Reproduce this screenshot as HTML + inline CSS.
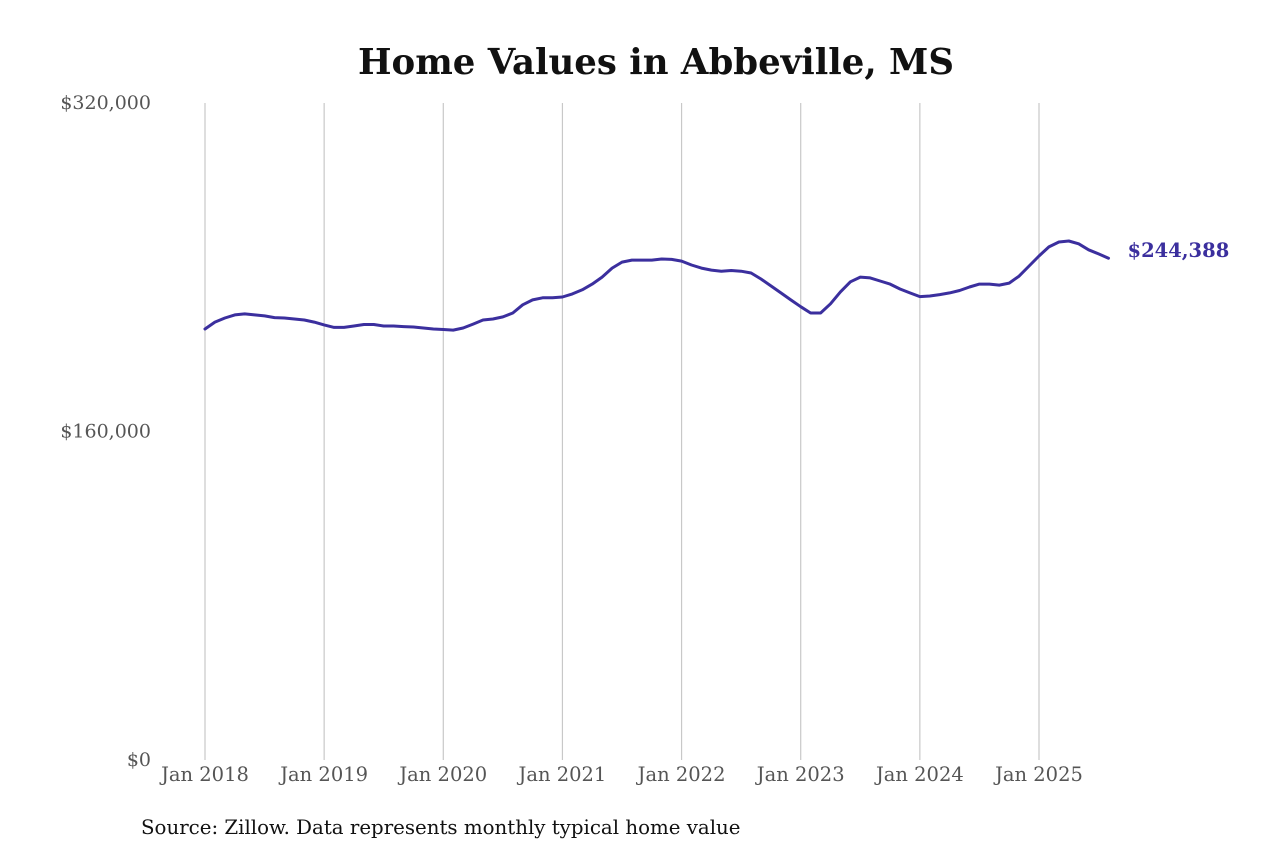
<!DOCTYPE html>
<html><head><meta charset="utf-8">
<style>
body{margin:0;background:#fff;}
svg{display:block;font-family:"DejaVu Serif","Liberation Serif",serif;}
</style></head>
<body>
<svg id="chart" width="1280" height="853" viewBox="0 0 1280 853">
<text x="656" y="74" text-anchor="middle" font-size="35.5" font-weight="bold" fill="#111">Home Values in Abbeville, MS</text>
<g id="grid"></g>
<g id="yaxis"></g>
<g id="xaxis"></g>
<g id="series"></g>
<text x="141" y="834" font-size="19.8" fill="#111">Source: Zillow. Data represents monthly typical home value</text>
</svg>
<script>
const yTicks=[0,160000,320000];
const yTickLabels=["$0","$160,000","$320,000"];
const xTickYears=[2018,2019,2020,2021,2022,2023,2024,2025];
const xTickLabels=["Jan 2018","Jan 2019","Jan 2020","Jan 2021","Jan 2022","Jan 2023","Jan 2024","Jan 2025"];
const startYear=2018;
const values=[209.9,213.3,215.3,216.8,217.3,216.8,216.3,215.5,215.3,214.8,214.3,213.3,
211.9,210.7,210.7,211.4,212.1,212.1,211.4,211.4,211.1,210.9,210.4,209.9,
209.7,209.4,210.4,212.3,214.3,214.8,215.8,217.7,221.7,224.1,225.1,225.1,
225.5,227.0,229.0,231.8,235.2,239.6,242.5,243.5,243.5,243.5,244.0,243.8,
243.0,241.1,239.6,238.6,238.1,238.4,238.1,237.2,234.3,230.9,227.5,224.1,
220.8,217.7,217.7,222.2,228.0,232.9,235.2,234.8,233.3,231.8,229.4,227.5,
225.7,226.0,226.7,227.5,228.7,230.4,231.8,231.8,231.3,232.3,235.7,240.6,
245.5,249.9,252.3,252.8,251.4,248.5,246.5,244.388];
const lastLabel="$244,388";

const NS="http://www.w3.org/2000/svg";
const y=v=>760-v/320000*657;
const x=m=>205+m*(834/84);
function mk(tag,attrs,parent,text){const e=document.createElementNS(NS,tag);for(const k in attrs)e.setAttribute(k,attrs[k]);if(text!==undefined)e.textContent=text;parent.appendChild(e);return e;}
const grid=document.getElementById('grid'),ya=document.getElementById('yaxis'),xa=document.getElementById('xaxis'),se=document.getElementById('series');
yTicks.forEach((t,i)=>{
  const tx=mk('text',{x:151,y:y(t)+6,'text-anchor':'end','font-size':19,fill:'#555'},ya,yTickLabels[i]);
  
  
});
xTickYears.forEach((yr,i)=>{
  const m=(yr-startYear)*12;
  const ln=mk('line',{x1:x(m),x2:x(m),y1:103,y2:760,stroke:'#c8c8c8','stroke-width':1.2},grid);
  
  
  const tx=mk('text',{x:x(m),y:781,'text-anchor':'middle','font-size':19.5,fill:'#555'},xa,xTickLabels[i]);
  
  
});
const d=values.map((v,i)=>(i?'L':'M')+x(i).toFixed(1)+','+y(v*(v<1000?1000:1)).toFixed(1)).join(' ');
const p=mk('path',{d:d,fill:'none',stroke:'#3b2f9e','stroke-width':3,'stroke-linejoin':'round','stroke-linecap':'round'},se);


const li=values.length-1,lv=values[li]*(values[li]<1000?1000:1);
const lt=mk('text',{x:x(li)+19,y:y(lv)-1,'font-size':19.5,'font-weight':'bold',fill:'#3b2f9e'},se,lastLabel);


</script>
</body></html>
